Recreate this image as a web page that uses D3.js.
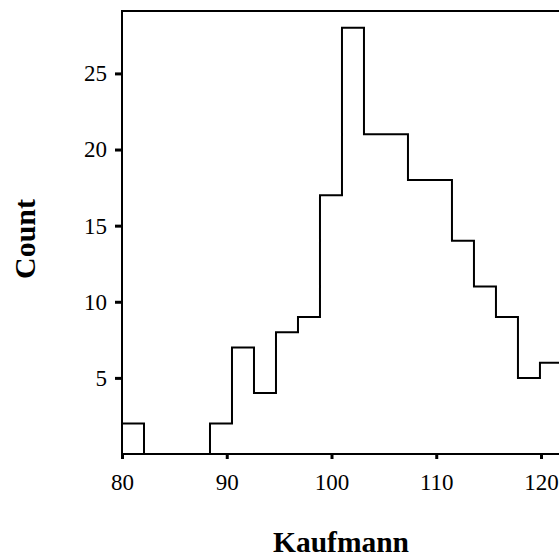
<!DOCTYPE html>
<html>
<head>
<meta charset="utf-8">
<script src="https://cdn.jsdelivr.net/npm/d3@7"></script>
<style>
    body { margin: 0; background: white; }
    svg { display: block; font-family: "Liberation Serif", "Times New Roman", serif; }
</style>
</head>
<body>
<svg width="559" height="559"></svg>
<script>
// histogram bins (edges) and counts
const binEdges = [80, 82.1, 84.2, 86.3, 88.4, 90.5, 92.6, 94.7, 96.8, 98.9, 101,
    103.1, 105.2, 107.3, 109.4, 111.5, 113.6, 115.7, 117.8, 119.9, 122];
const counts = [2, 0, 0, 0, 2, 7, 4, 8, 9, 17, 28, 21, 21, 18, 18, 14, 11, 9, 5, 6];
const xTicks = [80, 90, 100, 110, 120];
const yTicks = [5, 10, 15, 20, 25];

let xScale = d3.scaleLinear()
    .domain([80, 120])
    .range([122, 541]);

let yScale = d3.scaleLinear()
    .domain([0, 29.1])
    .range([454, 11]);

const svg = d3.select("svg");

const drawFrame = () => {
    svg.append("rect")
        .attr("x", xScale(80))
        .attr("y", yScale(29.1))
        .attr("width", 520)
        .attr("height", yScale(0) - yScale(29.1))
        .attr("fill", "none")
        .attr("stroke", "black")
        .attr("stroke-width", 2);
};

const drawAxes = () => {
    let xAxis = d3.axisBottom(xScale)
        .tickValues(xTicks)
        .tickSize(5)
        .tickPadding(15);
    let yAxis = d3.axisLeft(yScale)
        .tickValues(yTicks)
        .tickSize(7)
        .tickPadding(8);

    let gx = svg.append("g")
        .attr("transform", `translate(0, ${yScale(0)})`)
        .call(xAxis);
    let gy = svg.append("g")
        .attr("transform", `translate(${xScale(80)}, 0)`)
        .call(yAxis);

    [gx, gy].forEach(g => {
        g.select(".domain").remove();
        g.selectAll(".tick line").attr("stroke", "black").attr("stroke-width", 3);
        g.selectAll(".tick text")
            .attr("fill", "black")
            .style("font-family", "Liberation Serif, serif")
            .style("font-size", "23px");
    });

    svg.append("text")
        .attr("transform", "translate(35, 239) rotate(-90)")
        .attr("text-anchor", "middle")
        .style("font-size", "30px")
        .style("font-weight", "bold")
        .text("Count");

    svg.append("text")
        .attr("x", 341)
        .attr("y", 552)
        .attr("text-anchor", "middle")
        .style("font-size", "29.5px")
        .style("font-weight", "bold")
        .text("Kaufmann");
};

const drawHistogram = () => {
    let pts = [[binEdges[0], 0]];
    counts.forEach((c, i) => {
        pts.push([binEdges[i], c]);
        pts.push([binEdges[i + 1], c]);
    });
    pts.push([binEdges[binEdges.length - 1], 0]);

    let line = d3.line()
        .x(d => xScale(d[0]))
        .y(d => yScale(d[1]));

    svg.append("path")
        .attr("d", line(pts))
        .attr("fill", "none")
        .attr("stroke", "black")
        .attr("stroke-width", 2);
};

drawFrame();
drawHistogram();
drawAxes();
</script>
</body>
</html>
